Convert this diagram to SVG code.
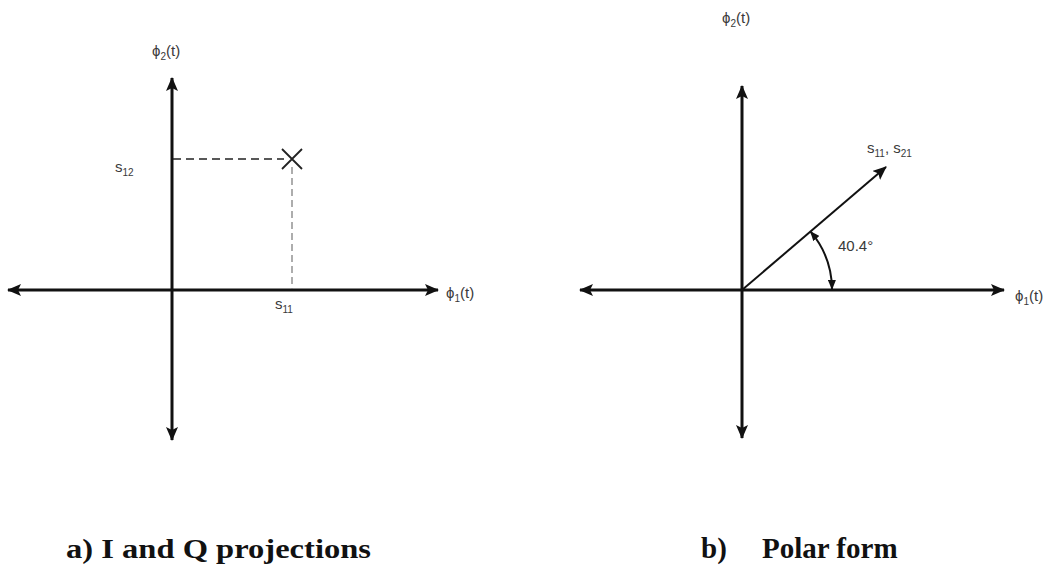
<svg xmlns="http://www.w3.org/2000/svg" width="1060" height="568" viewBox="0 0 1060 568">
<style>
.ax{stroke:#111;stroke-width:3;fill:none}
.vec{stroke:#111;stroke-width:2;fill:none}
.dash{stroke:#222;stroke-width:1.5;stroke-dasharray:8,5;fill:none}
.dash2{stroke:#777;stroke-width:1.2;stroke-dasharray:7,4;fill:none}
.lbl{font-family:"Liberation Sans",Arial,sans-serif;font-size:15px;fill:#3a3a3a}
.sub{font-size:10px}
.cap{font-family:"Liberation Serif","Times New Roman",serif;font-weight:bold;fill:#111}
</style>
<defs>
<marker id="ah" viewBox="0 0 14 12" refX="13" refY="6" markerWidth="14" markerHeight="12" markerUnits="userSpaceOnUse" orient="auto-start-reverse">
<path d="M0,0 L14,6 L0,12 L3,6 Z" fill="#111"/>
</marker>
<marker id="sa" viewBox="0 0 10 8" refX="9" refY="4" markerWidth="10" markerHeight="8" markerUnits="userSpaceOnUse" orient="auto-start-reverse">
<path d="M0,0 L10,4 L0,8 Z" fill="#111"/>
</marker>
</defs>
<g id="connectors">
<line class="ax" x1="172" y1="440" x2="172" y2="78" marker-start="url(#ah)" marker-end="url(#ah)"/>
<line class="ax" x1="8" y1="290" x2="438" y2="290" marker-start="url(#ah)" marker-end="url(#ah)"/>
<line class="dash" x1="173" y1="159" x2="284" y2="159"/>
<line class="dash2" x1="292" y1="167" x2="292" y2="289"/>
<line class="ax" x1="742" y1="438" x2="742" y2="86" marker-start="url(#ah)" marker-end="url(#ah)"/>
<line class="ax" x1="580" y1="290" x2="1004" y2="290" marker-start="url(#ah)" marker-end="url(#ah)"/>
<line class="vec" x1="742" y1="290" x2="886" y2="167" marker-end="url(#ah)"/>
<path class="vec" d="M810.6,231.7 A90,90 0 0 1 832,289" stroke-width="1.5" marker-start="url(#sa)" marker-end="url(#sa)"/>
</g>
<g id="point-x">
<path d="M282,149 L302,169 M302,149 L282,169" stroke="#222" stroke-width="1.8"/>
</g>
<g id="labels-a">
<text class="lbl" x="152" y="56">ϕ<tspan class="sub" dy="4">2</tspan><tspan dy="-4">(t)</tspan></text>
<text class="lbl" x="115" y="172">s<tspan class="sub" dy="4">12</tspan></text>
<text class="lbl" x="275" y="309">s<tspan class="sub" dy="4">11</tspan></text>
<text class="lbl" x="446" y="298">ϕ<tspan class="sub" dy="4">1</tspan><tspan dy="-4">(t)</tspan></text>
</g>
<g id="labels-b">
<text class="lbl" x="722" y="23">ϕ<tspan class="sub" dy="4">2</tspan><tspan dy="-4">(t)</tspan></text>
<text class="lbl" x="867" y="153">s<tspan class="sub" dy="4">11</tspan><tspan dy="-4">, s</tspan><tspan class="sub" dy="4">21</tspan></text>
<text class="lbl" x="838" y="251" font-size="14">40.4°</text>
<text class="lbl" x="1015" y="301">ϕ<tspan class="sub" dy="4">1</tspan><tspan dy="-4">(t)</tspan></text>
</g>
<g id="captions">
<text class="cap" x="66" y="558" font-size="27" textLength="305" lengthAdjust="spacingAndGlyphs">a) I and Q projections</text>
<text class="cap" x="701" y="558" font-size="29">b)</text>
<text class="cap" x="762" y="558" font-size="29">Polar form</text>
</g>
</svg>
